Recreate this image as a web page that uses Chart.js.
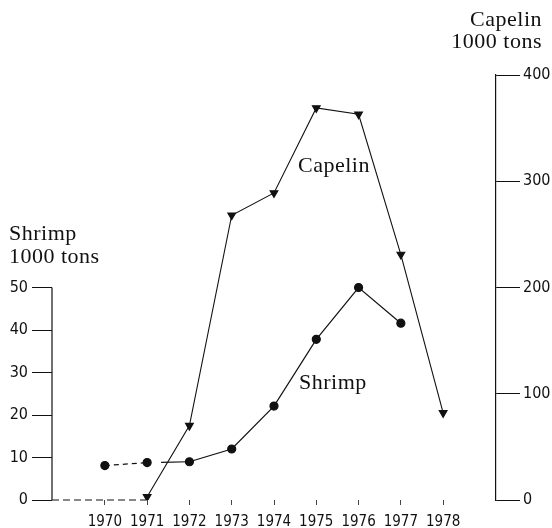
<!DOCTYPE html>
<html>
<head>
<meta charset="utf-8">
<title>Shrimp and capelin catches 1970-1978</title>
<script src="https://cdn.jsdelivr.net/npm/chart.js@4/dist/chart.umd.min.js"></script>
<style>
  html, body { margin: 0; padding: 0; background: #fff; }
  #wrap { position: relative; width: 552px; height: 528px; }
  #chart { position: absolute; left: 0; top: 0; }
  .lbl {
    position: absolute;
    font-family: "Liberation Serif", "Times New Roman", Tinos, Times, serif;
    font-size: 22px;
    line-height: 22px;
    color: #111;
    letter-spacing: 0.5px;
    white-space: nowrap;
  }
</style>
</head>
<body>
<div id="wrap">
  <canvas id="chart" width="552" height="528"></canvas>
  <div class="lbl" style="left:9px; top:221px; line-height:23px;">Shrimp<br>1000 tons</div>
  <div class="lbl" style="right:10px; top:8px; text-align:right;">Capelin<br>1000 tons</div>
  <div class="lbl" style="left:298px; top:154px;">Capelin</div>
  <div class="lbl" style="left:299px; top:371px;">Shrimp</div>
</div>
<script>
const years = [1970, 1971, 1972, 1973, 1974, 1975, 1976, 1977, 1978];
// catches in 1000 tons, null = not plotted
const shrimp = [8.1, 8.8, 9.0, 12.0, 22.1, 37.8, 50, 41.6, null];
const capelin = [null, 3, 70, 268, 289, 369, 363, 231, 82];
const shrimpTicks = [0, 10, 20, 30, 40, 50];
const capelinTicks = [0, 100, 200, 300, 400];

const ink = "#111";
const tickFont = { family: "'Liberation Sans Narrow', 'Arial Narrow', 'DejaVu Sans Condensed', sans-serif", size: 16 };

function points(values) {
  return years.map((x, i) => ({ x, y: values[i] })).filter(p => p.y !== null);
}

// left axis line only runs up to 50, plus the dashed base line at the left
const axisBits = {
  id: "axisBits",
  afterDraw(chart) {
    const { ctx, scales, chartArea } = chart;
    const yS = scales.yS, x = scales.x;
    ctx.save();
    ctx.strokeStyle = ink;
    ctx.lineWidth = 1.2;
    ctx.beginPath();
    ctx.moveTo(chartArea.left, yS.getPixelForValue(0));
    ctx.lineTo(chartArea.left, yS.getPixelForValue(shrimpTicks[shrimpTicks.length - 1]));
    ctx.stroke();
    ctx.setLineDash([7, 4]);
    ctx.lineWidth = 1;
    ctx.beginPath();
    ctx.moveTo(chartArea.left, yS.getPixelForValue(0));
    ctx.lineTo(x.getPixelForValue(years[1]), yS.getPixelForValue(0));
    ctx.stroke();
    ctx.restore();
  }
};

new Chart(document.getElementById("chart"), {
  type: "line",
  data: {
    datasets: [
      {
        label: "Shrimp",
        data: points(shrimp),
        yAxisID: "yS",
        borderColor: ink,
        backgroundColor: ink,
        borderWidth: 1.2,
        pointStyle: "circle",
        pointRadius: 4,
        tension: 0,
        segment: {
          borderDash: ctx => ctx.p0DataIndex === 0 ? [5, 4] : ctx.p0DataIndex === 1 ? [0, 14, 80] : undefined,
        },
      },
      {
        label: "Capelin",
        data: points(capelin),
        yAxisID: "yC",
        borderColor: ink,
        backgroundColor: ink,
        borderWidth: 1.1,
        pointStyle: "triangle",
        rotation: 180,
        pointRadius: 4.5,
        tension: 0,
      },
    ],
  },
  options: {
    responsive: false,
    animation: false,
    layout: { padding: { top: 75, left: 0, right: 0, bottom: 0 } },
    plugins: { legend: { display: false }, tooltip: { enabled: false } },
    scales: {
      x: {
        type: "linear",
        min: 1968.75,
        max: 1979.25,
        afterBuildTicks: s => { s.ticks = years.map(v => ({ value: v })); },
        afterFit: s => { s.height = 28; },
        ticks: { callback: v => String(v), color: ink, font: { ...tickFont, size: 15 }, padding: 8, maxRotation: 0, autoSkip: false },
        grid: { drawOnChartArea: false, tickLength: 5, color: "#444" },
        border: { display: false },
      },
      yS: {
        position: "left",
        min: 0,
        max: 100,
        afterBuildTicks: s => { s.ticks = shrimpTicks.map(v => ({ value: v })); },
        afterFit: s => { s.width = 52; },
        ticks: { callback: v => String(v), color: ink, font: tickFont, padding: 4 },
        grid: { drawOnChartArea: false, tickLength: 20, color: ink },
        border: { display: false },
      },
      yC: {
        position: "right",
        min: 0,
        max: 400,
        afterBuildTicks: s => { s.ticks = capelinTicks.map(v => ({ value: v })); },
        afterFit: s => { s.width = 56; },
        ticks: { callback: v => String(v), color: ink, font: tickFont, padding: 3 },
        grid: { drawOnChartArea: false, tickLength: 24, color: ink },
        border: { display: true, color: ink, width: 1.2 },
      },
    },
  },
  plugins: [axisBits],
});
</script>
</body>
</html>
